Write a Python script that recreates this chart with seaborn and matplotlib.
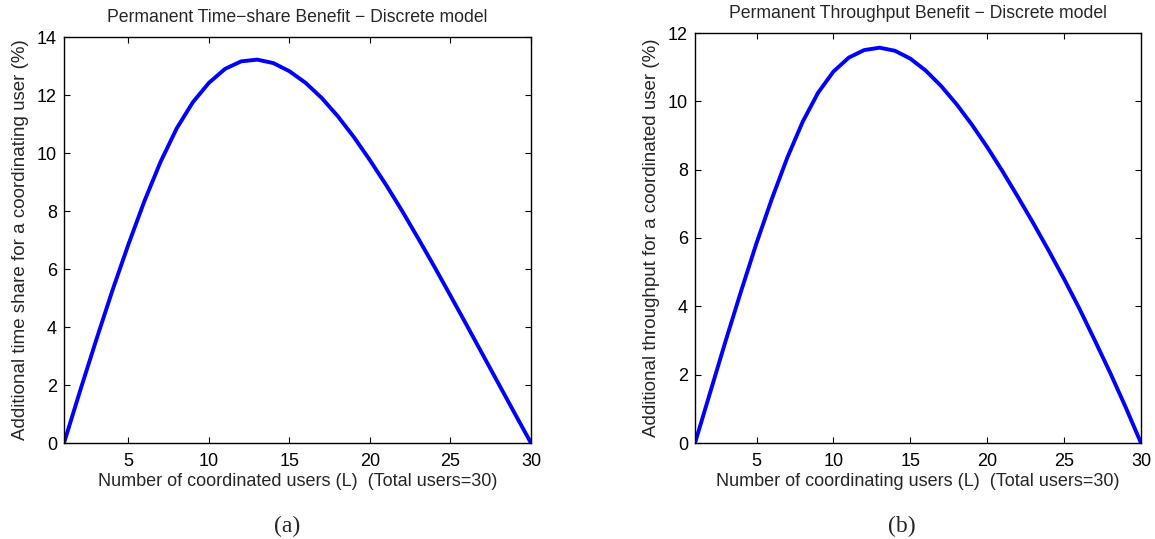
import numpy as np
import pandas as pd
import matplotlib
matplotlib.use("Agg")
import matplotlib.pyplot as plt
import seaborn as sns

# ---------------------- data ---------------------- #
users = list(range(1, 31))

timeshare_gain = [0.0, 1.8, 3.55, 5.25, 6.85, 8.35, 9.7, 10.85, 11.75, 12.42,
                  12.9, 13.16, 13.22, 13.1, 12.82, 12.42, 11.9, 11.27, 10.55, 9.75,
                  8.9, 8.0, 7.05, 6.08, 5.08, 4.07, 3.05, 2.03, 1.01, 0.0]

throughput_gain = [0.0, 1.5, 3.0, 4.45, 5.85, 7.15, 8.35, 9.4, 10.25, 10.87,
                   11.28, 11.5, 11.57, 11.48, 11.25, 10.9, 10.45, 9.92, 9.32, 8.66,
                   7.95, 7.2, 6.43, 5.63, 4.8, 3.93, 3.0, 2.05, 1.05, 0.0]

x_ticks = [5, 10, 15, 20, 25, 30]

df = pd.DataFrame({"L": users, "timeshare": timeshare_gain, "throughput": throughput_gain})

# ---------------------- style ---------------------- #
sns.set_style("ticks")
plt.rcParams["font.family"] = ["Liberation Sans", "DejaVu Sans"]
plt.rcParams["xtick.direction"] = "in"
plt.rcParams["ytick.direction"] = "in"
plt.rcParams["xtick.top"] = True
plt.rcParams["ytick.right"] = True

fig = plt.figure(figsize=(11.55, 5.39), dpi=100)
W, H = 1155, 539

def make_axes(x0, x1, y0, y1):
    return fig.add_axes([x0 / W, 1 - y1 / H, (x1 - x0) / W, (y1 - y0) / H])

ax1 = make_axes(64, 531, 37, 443)
ax2 = make_axes(695, 1141, 33, 443)

panels = [
    (ax1, "timeshare", 14, range(0, 15, 2),
     "Permanent Time\u2212share Benefit \u2212 Discrete model",
     "Number of coordinated users (L)  (Total users=30)",
     "Additional time share for a coordinating user (%)"),
    (ax2, "throughput", 12, range(0, 13, 2),
     "Permanent Throughput Benefit \u2212 Discrete model",
     "Number of coordinating users (L)  (Total users=30)",
     "Additional throughput for a coordinated user (%)"),
]

for ax, col, ymax, yt, title, xlab, ylab in panels:
    sns.lineplot(data=df, x="L", y=col, ax=ax, color=(0, 0, 1), linewidth=2.8)
    ax.set_xlim(1, 30)
    ax.set_ylim(0, ymax)
    ax.set_xticks(x_ticks)
    ax.set_yticks(list(yt))
    ax.tick_params(labelsize=13, length=4, width=0.8, colors="black")
    ax.tick_params(axis="x", pad=7)
    ax.tick_params(axis="y", pad=5)
    ax.set_title(title, fontsize=12.7, pad=10.5)
    ax.set_xlabel(xlab, fontsize=13, labelpad=2)
    ax.set_ylabel(ylab, fontsize=13.5, labelpad=5.5)
    for s in ax.spines.values():
        s.set_visible(True)
        s.set_linewidth(1.0)
        s.set_color("black")

fig.text(287 / W, 1 - 526 / H, "(a)", family="Liberation Serif", fontsize=17,
         ha="center", va="center")
fig.text(902 / W, 1 - 526 / H, "(b)", family="Liberation Serif", fontsize=17,
         ha="center", va="center")

fig.savefig("out.png", dpi=100)
plt.close(fig)
